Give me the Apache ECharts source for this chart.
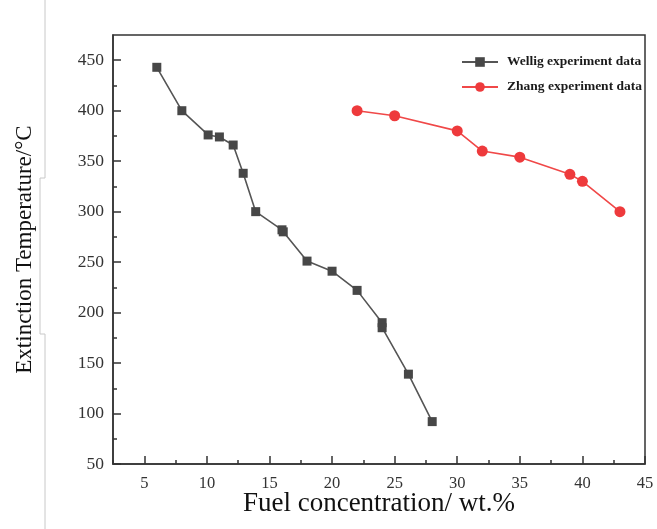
<!DOCTYPE html>
<html>
<head>
<meta charset="utf-8">
<script src="https://cdn.jsdelivr.net/npm/echarts@6/dist/echarts.min.js"></script>
<style>html,body{margin:0;padding:0;background:#fff}#c{width:657px;height:529px}</style>
</head>
<body>
<div id="c"></div>
<script>
const xWellig = [6, 8, 10.1, 11, 12.1, 12.9, 13.9, 16, 16.1, 18, 20, 22, 24, 24, 26.1, 28];
const yWellig = [443, 400, 376, 374, 366, 338, 300, 282, 280, 251, 241, 222, 190, 185, 139, 92];
const xZhang = [22, 25, 30, 32, 35, 39, 40, 43];
const yZhang = [400, 395, 380, 360, 354, 337, 330, 300];
const xMajorTicks = [5, 10, 15, 20, 25, 30, 35, 40, 45];
const xMinorTicks = [2.5, 7.5, 12.5, 17.5, 22.5, 27.5, 32.5, 37.5, 42.5];
const yMajorTicks = [50, 100, 150, 200, 250, 300, 350, 400, 450];
const yMinorTicks = [75, 125, 175, 225, 275, 325, 375, 425];
const seriesNames = ['Wellig experiment data', 'Zhang experiment data'];
const xTitle = 'Fuel concentration/ wt.%';
const yTitle = 'Extinction Temperature/°C';

const FONT = "'Liberation Serif', 'Times New Roman', serif";
const AX = '#333';
const chart = echarts.init(document.getElementById('c'), null, {renderer: 'canvas'});
const zip = (xs, ys) => xs.map((x, i) => [x, ys[i]]);

chart.setOption({
  animation: false,
  backgroundColor: '#fff',
  graphic: [
    {type: 'polyline', silent: true, shape: {points: [[45, 0], [45, 178], [40, 178], [40, 334], [45, 334], [45, 529]]},
     style: {stroke: '#c8c8c8', lineWidth: 1, fill: null}}
  ],
  grid: {left: 113, right: 12, top: 35, bottom: 65, show: true, borderColor: AX, borderWidth: 1.5, backgroundColor: 'transparent'},
  legend: {
    orient: 'vertical', left: 456, top: 50, itemWidth: 36, itemHeight: 12, itemGap: 11,
    data: seriesNames,
    textStyle: {fontFamily: FONT, fontWeight: 'bold', fontSize: 13.5, color: '#1a1a1a', padding: [0, 0, 0, 4]}
  },
  xAxis: [
    {
      type: 'value', min: 2.5, max: 45, gridIndex: 0, position: 'bottom',
      name: xTitle, nameLocation: 'middle', nameGap: 26, nameMoveOverlap: false,
      nameTextStyle: {fontFamily: FONT, fontSize: 27, color: '#111'},
      axisLine: {show: true, lineStyle: {color: AX, width: 1.5}},
      axisTick: {show: true, inside: true, length: 8, customValues: xMajorTicks, lineStyle: {color: AX, width: 1.5}},
      axisLabel: {customValues: xMajorTicks, margin: 11, fontFamily: FONT, fontSize: 16.5, color: '#333'},
      splitLine: {show: false}
    },
    {
      type: 'value', min: 2.5, max: 45, gridIndex: 0, position: 'bottom', offset: 0,
      axisLine: {show: false},
      axisTick: {show: true, inside: true, length: 4, customValues: xMinorTicks, lineStyle: {color: AX, width: 1.5}},
      axisLabel: {show: false},
      splitLine: {show: false}
    }
  ],
  yAxis: [
    {
      type: 'value', min: 50, max: 475, gridIndex: 0, position: 'left',
      name: yTitle, nameLocation: 'middle', nameGap: 77, nameMoveOverlap: false,
      nameTextStyle: {fontFamily: FONT, fontSize: 23, color: '#111'},
      axisLine: {show: true, lineStyle: {color: AX, width: 1.5}},
      axisTick: {show: true, inside: true, length: 8, customValues: yMajorTicks, lineStyle: {color: AX, width: 1.5}},
      axisLabel: {customValues: yMajorTicks, margin: 9, fontFamily: FONT, fontSize: 17.5, color: '#333'},
      splitLine: {show: false}
    },
    {
      type: 'value', min: 50, max: 475, gridIndex: 0, position: 'left', offset: 0,
      axisLine: {show: false},
      axisTick: {show: true, inside: true, length: 4, customValues: yMinorTicks, lineStyle: {color: AX, width: 1.5}},
      axisLabel: {show: false},
      splitLine: {show: false}
    }
  ],
  series: [
    {
      name: seriesNames[0], type: 'line', xAxisIndex: 0, yAxisIndex: 0,
      data: zip(xWellig, yWellig),
      symbol: 'rect', symbolSize: 9,
      lineStyle: {color: '#555', width: 1.6},
      itemStyle: {color: '#474747'}
    },
    {
      name: seriesNames[1], type: 'line', xAxisIndex: 0, yAxisIndex: 0,
      data: zip(xZhang, yZhang),
      symbol: 'circle', symbolSize: 11,
      lineStyle: {color: '#f04848', width: 1.6},
      itemStyle: {color: '#ee3a3c'}
    }
  ]
});
</script>
</body>
</html>
